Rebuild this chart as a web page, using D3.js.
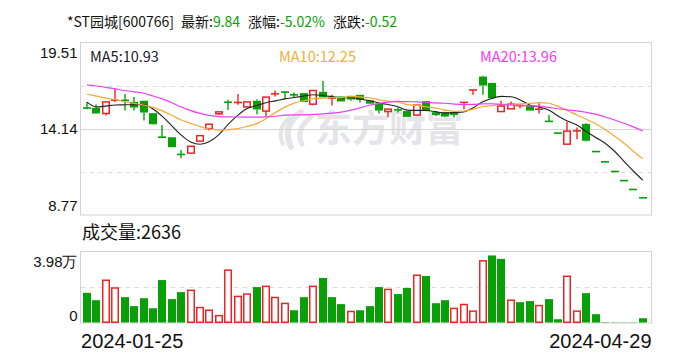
<!DOCTYPE html>
<html><head><meta charset="utf-8">
<script src="https://cdn.jsdelivr.net/npm/d3@7"></script>
<style>
body{margin:0;background:#fff;}
svg{display:block;font-family:"Microsoft YaHei","Noto Sans CJK SC","Noto Sans",sans-serif;}
</style></head><body>
<svg id="c" width="688" height="360"></svg>
<script>
// ---------------- data ----------------
const dates = [
 "2024-01-25","2024-01-26","2024-01-29","2024-01-30","2024-01-31",
 "2024-02-01","2024-02-02","2024-02-05","2024-02-06","2024-02-07","2024-02-08",
 "2024-02-19","2024-02-20","2024-02-21","2024-02-22","2024-02-23",
 "2024-02-26","2024-02-27","2024-02-28","2024-02-29",
 "2024-03-01","2024-03-04","2024-03-05","2024-03-06","2024-03-07","2024-03-08",
 "2024-03-11","2024-03-12","2024-03-13","2024-03-14","2024-03-15",
 "2024-03-18","2024-03-19","2024-03-20","2024-03-21","2024-03-22",
 "2024-03-25","2024-03-26","2024-03-27","2024-03-28","2024-03-29",
 "2024-04-01","2024-04-02","2024-04-03",
 "2024-04-08","2024-04-09","2024-04-10","2024-04-11","2024-04-12",
 "2024-04-15","2024-04-16","2024-04-17","2024-04-18","2024-04-19",
 "2024-04-22","2024-04-23","2024-04-24","2024-04-25","2024-04-26","2024-04-29"];
const opens  = [15.44,15.44,15.09,15.90,15.92,15.81,15.88,15.11,13.63,13.61,12.55,12.62,13.37,14.15,15.07,15.82,15.76,15.50,15.88,15.24,
                16.30,16.43,16.26,16.36,15.67,16.44,16.04,16.15,16.19,16.25,15.90,15.69,15.21,15.32,15.24,14.99,15.86,15.17,15.15,15.15,
                15.77,16.54,17.39,16.99,15.21,15.38,15.57,15.55,15.34,14.60,13.87,13.18,14.00,14.44,12.72,12.08,11.48,10.91,10.36,9.84];
const highs  = [15.80,15.65,15.81,16.61,16.31,16.11,15.90,15.12,14.38,13.62,12.82,13.05,13.71,14.45,15.20,15.94,16.31,15.81,15.98,16.12,
                16.52,16.48,16.40,16.37,16.53,17.12,16.25,16.16,16.20,16.26,15.91,15.70,15.37,15.46,15.25,15.62,15.87,15.18,15.16,15.16,
                15.80,16.57,17.44,17.00,15.88,15.83,15.65,15.56,15.73,15.00,13.87,14.56,14.22,14.49,12.72,12.08,11.48,10.91,10.36,9.84];
const lows   = [15.36,15.08,14.96,15.80,15.27,15.27,14.65,14.40,13.58,12.99,12.30,12.62,13.37,14.03,15.00,15.30,15.63,15.48,15.05,14.88,
                16.15,16.00,16.10,15.80,15.61,16.08,15.58,15.84,15.88,15.77,15.69,15.09,14.86,15.15,14.88,14.98,15.24,14.93,14.86,14.84,
                15.36,16.25,16.25,15.98,15.20,15.37,15.42,15.27,15.09,14.60,13.87,13.18,13.49,13.34,12.72,12.08,11.48,10.91,10.36,9.84];
const closes = [15.42,15.09,15.81,15.93,15.90,15.46,15.15,14.42,13.60,12.99,12.53,13.05,13.71,14.42,15.19,15.76,15.79,15.81,15.34,16.11,
                16.32,16.41,16.24,15.80,16.52,16.10,16.06,15.84,15.96,15.94,15.70,15.27,15.36,15.30,14.88,15.61,15.24,15.00,14.90,15.00,
                15.79,16.56,16.83,16.04,15.55,15.67,15.59,15.27,15.37,14.60,13.87,13.99,14.02,13.39,12.72,12.08,11.48,10.91,10.36,9.84];
const volumes = [16800,12700,23800,19500,14400,9400,13800,8200,23900,13300,17200,18200,8600,7100,4100,29400,14800,16100,20000,20400,
                 14200,10900,7100,14400,20400,25100,14400,10500,6400,7100,9400,20000,18700,16100,19500,26600,26200,11000,12700,8100,
                 10300,6600,34600,37600,35700,12700,11600,12200,9700,13300,2100,26000,6600,16600,4900,500,450,400,420,2636];
// moving-average values at the start of the window (earlier closes are not shown)
const ma5Lead  = [15.80,15.50,15.55,15.62];
const ma10Lead = [16.29,16.17,16.05,15.95,15.83,15.72,15.62,15.47,15.25];
const ma20Lead = [16.87,16.80,16.72,16.62,16.52,16.44,16.35,16.18,16.00,15.76,15.49,15.27,15.10,14.97,14.90,14.88,14.87,14.86,14.86];
const priceTicks = [8.77, 14.14, 19.51];
const volTicks = [0, 39800];
const dateTicks = ["2024-01-25", "2024-04-29"];
const maLabels = ["MA5:10.93", "MA10:12.25", "MA20:13.96"];
const volLabel = "成交量:2636";
const titleParts = [["*ST园城[600766]", ""], ["最新:", "9.84"], ["涨幅:", "-5.02%"], ["涨跌:", "-0.52"]];

// ---------------- style / layout ----------------
const RED = "#ee2424", GREEN = "#07a007";
const MA_COLORS = ["#222222", "#f5a933", "#f23cf2"];
const L = 80.5, R = 651.5;
const PT = 42.5, PB = 215, VT = 251.5, VB = 323;

const svg = d3.select("#c");

const x = d3.scaleBand().domain(dates).range([82.3, 647.5]).paddingInner(0.15).paddingOuter(0.075);
const y = d3.scaleLinear().domain([priceTicks[0], priceTicks[2]]).range([PB, PT]);
const yv = d3.scaleLinear().domain([volTicks[0], volTicks[1]]).range([VB, VT]);
const cx = d => x(d) + x.bandwidth() / 2;

// title
const titleX = [67, 181, 248, 333];
titleParts.forEach((p, i) => {
  const t = svg.append("text").attr("x", titleX[i]).attr("y", 22).attr("dy", "0.36em")
    .attr("font-size", 14).attr("fill", "#111");
  t.append("tspan").text(p[0]);
  if (p[1]) t.append("tspan").attr("fill", GREEN).text(p[1]);
});

// watermark
const wm = svg.append("g").attr("fill", "#e4e4e9").attr("stroke", "#e4e4e9");
[["M301 112 Q281 126 291 147", 6], ["M311 117 Q295 129 302 144", 5], ["M289 118 Q276 130 283 144", 4]].forEach(p => {
  wm.append("path").attr("d", p[0]).attr("fill", "none").attr("stroke-width", p[1]).attr("stroke-linecap", "round");
});
wm.append("text").attr("x", 315).attr("y", 129).attr("dy", "0.36em").attr("font-size", 37)
  .attr("font-weight", "bold").attr("stroke", "none").text("东方财富");

// frames & grid
function frame(top, bottom) {
  svg.append("rect").attr("x", L).attr("y", top).attr("width", R - L).attr("height", bottom - top)
    .attr("fill", "none").attr("stroke", "#d2d2d6").attr("stroke-width", 1);
}
const gridVals = d3.range(1, 4).map(k => priceTicks[0] + k * (priceTicks[2] - priceTicks[0]) / 4);
gridVals.forEach((v, k) => {
  const yy = Math.round(y(v)) + 0.5;
  svg.append("line").attr("x1", L).attr("x2", R).attr("y1", yy).attr("y2", yy)
    .attr("stroke", k === 1 ? "#d6d6d6" : "#dcdcdc").attr("stroke-width", 1)
    .attr("stroke-dasharray", k === 1 ? null : "5,4");
});
{
  const yy = Math.round(yv((volTicks[0] + volTicks[1]) / 2)) + 0.5;
  svg.append("line").attr("x1", L).attr("x2", R).attr("y1", yy).attr("y2", yy)
    .attr("stroke", "#dcdcdc").attr("stroke-dasharray", "5,4");
}
frame(PT, PB);
frame(VT, VB);

// axes
const fmtP = d3.format(".2f");
const ay = svg.append("g").attr("transform", `translate(${L},0)`)
  .call(d3.axisLeft(y).tickValues(priceTicks).tickSize(0).tickPadding(3).tickFormat(fmtP));
ay.select(".domain").remove();
ay.selectAll("text").attr("font-size", 15).attr("fill", "#111").attr("font-family", null)
  .attr("dy", (d, i) => i === 0 ? "-0.33em" : i === 2 ? "0.98em" : "0.32em");

const av = svg.append("g").attr("transform", `translate(${L},0)`)
  .call(d3.axisLeft(yv).tickValues(volTicks).tickSize(0).tickPadding(3)
    .tickFormat(d => d === 0 ? "0" : (d / 10000).toFixed(2) + "万"));
av.select(".domain").remove();
av.selectAll("text").attr("font-size", 15).attr("fill", "#111").attr("font-family", null)
  .attr("dy", (d, i) => i === 0 ? "-0.15em" : "1.0em");

const ax = svg.append("g").attr("transform", `translate(0,${VB})`)
  .call(d3.axisBottom(x).tickValues(dateTicks).tickSize(0));
ax.select(".domain").remove();
ax.selectAll("text").attr("font-size", 20).attr("fill", "#111").attr("font-family", null)
  .attr("y", 18).attr("dy", "0.36em")
  .attr("text-anchor", (d, i) => i === 0 ? "start" : "end")
  .attr("x", (d, i) => i === 0 ? L + 0.5 - cx(d) : R - cx(d));

// candles
const data = dates.map((d, i) => ({
  d, o: opens[i], h: highs[i], l: lows[i], c: closes[i], v: volumes[i],
  prev: i > 0 ? closes[i - 1] : opens[i]
}));
data.forEach(k => {
  k.up = k.c > k.o || (k.c === k.o && k.c >= k.prev);
  k.volUp = k.c > k.prev || (k.c === k.prev && k.up);
});

const cg = svg.append("g");
const bw = Math.round(x.bandwidth());
data.forEach(k => {
  const x0 = Math.round(x(k.d));
  const col = k.up ? RED : GREEN;
  const yTop = y(Math.max(k.o, k.c)), yBot = y(Math.min(k.o, k.c));
  const wx = x0 + Math.floor(bw / 2);
  cg.append("line").attr("x1", wx).attr("x2", wx).attr("y1", y(k.h)).attr("y2", yTop)
    .attr("stroke", col).attr("stroke-width", 1.4);
  cg.append("line").attr("x1", wx).attr("x2", wx).attr("y1", yBot).attr("y2", y(k.l))
    .attr("stroke", col).attr("stroke-width", 1.4);
  if (yBot - yTop < 1.6) {
    const yy = (yTop + yBot) / 2;
    cg.append("line").attr("x1", x0).attr("x2", x0 + bw).attr("y1", yy).attr("y2", yy)
      .attr("stroke", col).attr("stroke-width", 1.6);
  } else if (k.up) {
    cg.append("rect").attr("x", x0 + 0.75).attr("y", yTop).attr("width", bw - 1.5).attr("height", yBot - yTop)
      .attr("fill", "#fff").attr("stroke", col).attr("stroke-width", 1.5);
  } else {
    cg.append("rect").attr("x", x0).attr("y", yTop).attr("width", bw).attr("height", yBot - yTop)
      .attr("fill", col);
  }
});

// moving averages
function ma(n, lead) {
  return closes.map((c, i) => i < n - 1 ? lead[i] : d3.mean(closes.slice(i - n + 1, i + 1)));
}
const line = d3.line().x((v, i) => cx(dates[i])).y(v => y(v)).curve(d3.curveMonotoneX);
[ma(5, ma5Lead), ma(10, ma10Lead), ma(20, ma20Lead)].forEach((s, j) => {
  svg.append("path").attr("d", line(s)).attr("fill", "none").attr("stroke", MA_COLORS[j])
    .attr("stroke-width", j === 0 ? 1.1 : 1.2);
});

// MA labels
[[90, "#1a1a2a"], [279, "#f5ad3c"], [480, "#f23cf2"]].forEach((p, j) => {
  svg.append("text").attr("x", p[0]).attr("y", 57).attr("dy", "0.36em").attr("font-size", 14.5)
    .attr("fill", p[1]).text(maLabels[j]);
});

// volume
svg.append("text").attr("x", 82).attr("y", 233).attr("dy", "0.36em").attr("font-size", 18)
  .attr("fill", "#111").text(volLabel);
const vg = svg.append("g");
data.forEach(k => {
  const x0 = Math.round(x(k.d));
  const col = k.volUp ? RED : GREEN;
  const yt = yv(k.v);
  if (k.volUp) {
    vg.append("rect").attr("x", x0 + 0.75).attr("y", yt).attr("width", bw - 1.5).attr("height", VB - 0.75 - yt)
      .attr("fill", "#fff").attr("stroke", col).attr("stroke-width", 1.5);
  } else {
    vg.append("rect").attr("x", x0).attr("y", yt).attr("width", bw).attr("height", VB - 0.5 - yt)
      .attr("fill", col);
  }
});
</script>
</body></html>
